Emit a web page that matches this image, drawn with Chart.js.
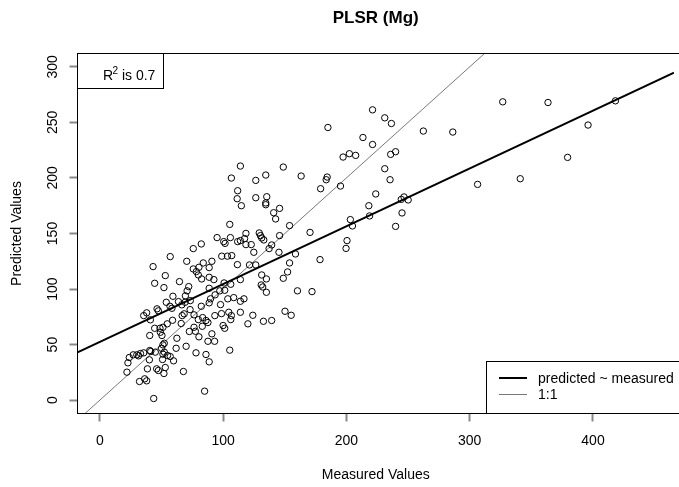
<!DOCTYPE html>
<html>
<head>
<meta charset="utf-8">
<title>PLSR (Mg)</title>
<script src="https://cdn.jsdelivr.net/npm/chart.js@4.4.1/dist/chart.umd.min.js"></script>
<style>
  body { margin: 0; background: #fff; }
  #wrap { width: 679px; height: 487px; }
</style>
</head>
<body>
<div id="wrap"><canvas id="myChart" width="679" height="487"></canvas></div>
<script>
const measured = [
  239.9, 244.5, 246.7, 250.1, 245.1, 239.9, 262.4, 286.3, 306.4, 326.8, 341.0, 363.5, 379.4, 396.0, 418.2,
  221.2, 231.1, 236.5, 185.0, 213.4, 221.2, 235.9, 197.3, 202.4, 207.5, 114.0, 148.8, 231.1, 134.6, 163.3,
  126.5, 184.4, 183.6, 235.4, 179.1, 195.2, 111.8, 223.8, 126.5, 135.4, 111.4, 114.8, 134.6, 134.6, 145.8,
  218.2, 141.0, 142.6, 218.8, 203.2, 153.9, 204.9, 170.5, 118.5, 129.3, 130.3, 131.3, 133.0, 145.8, 114.0,
  117.4, 118.5, 122.8, 200.5, 199.7, 139.4, 137.3, 124.9, 145.3, 158.7, 106.7, 105.4, 95.1, 105.9, 100.5,
  101.6, 111.8, 82.3, 75.8, 57.1, 98.9, 103.5, 107.0, 121.4, 126.5, 178.6, 153.9, 152.3, 148.8, 131.3,
  135.1, 130.9, 132.1, 135.1, 114.0, 160.3, 172.1, 116.9, 114.0, 114.0, 124.1, 150.2, 155.2, 120.1, 132.7,
  139.4, 70.5, 83.9, 90.9, 111.6, 43.2, 75.8, 78.3, 80.4, 88.7, 82.6, 79.9, 88.7, 92.5, 53.1,
  44.5, 52.0, 64.6, 72.1, 70.8, 69.4, 88.7, 100.8, 106.2, 97.3, 101.3, 59.3, 63.8, 66.5, 69.2,
  73.4, 73.2, 53.9, 56.9, 58.5, 46.4, 47.5, 38.0, 35.6, 89.8, 88.7, 93.5, 103.8, 108.6, 97.9,
  82.3, 68.4, 66.8, 76.4, 83.4, 93.3, 98.7, 104.6, 106.7, 106.2, 41.0, 59.0, 54.7, 79.9, 86.1,
  44.5, 48.8, 51.2, 66.0, 76.4, 77.5, 72.6, 83.1, 87.7, 100.0, 101.3, 49.1, 50.4, 40.5, 62.5,
  80.4, 90.9, 87.7, 93.1, 52.3, 51.2, 50.1, 70.0, 61.9, 40.5, 41.3, 45.0, 27.1, 30.0, 31.4,
  33.0, 35.6, 23.9, 22.8, 52.3, 51.2, 54.9, 57.1, 50.9, 59.8, 40.2, 78.0, 86.1, 88.7, 105.4,
  22.0, 38.6, 46.1, 47.5, 53.1, 52.0, 67.8, 32.2, 36.4, 38.0, 85.0, 43.7
];
const predicted = [
  223.6, 180.7, 182.9, 180.2, 168.5, 156.4, 242.2, 241.3, 194.2, 268.5, 199.3, 267.9, 218.5, 247.6, 269.4,
  261.3, 254.1, 249.0, 245.4, 236.4, 230.1, 221.2, 218.8, 221.8, 220.3, 210.7, 209.8, 208.3, 202.6, 201.7,
  197.8, 200.8, 198.4, 198.4, 190.3, 192.7, 188.5, 185.6, 182.2, 183.1, 181.3, 175.0, 177.5, 175.9, 172.6,
  175.0, 168.7, 163.1, 165.8, 162.5, 157.1, 156.8, 151.0, 150.1, 150.5, 148.1, 146.0, 144.2, 148.1, 143.6,
  145.4, 140.0, 140.0, 143.6, 136.6, 139.7, 136.4, 133.1, 133.1, 131.6, 199.9, 158.2, 146.3, 146.3, 142.7,
  141.1, 142.7, 140.6, 136.4, 129.2, 129.6, 129.6, 130.1, 121.7, 121.7, 126.5, 123.5, 115.4, 109.7, 112.7,
  109.1, 103.7, 101.9, 97.1, 108.5, 98.4, 97.7, 91.2, 89.0, 79.1, 76.4, 80.0, 76.4, 68.7, 71.0,
  71.7, 125.0, 123.5, 125.0, 122.0, 120.2, 118.1, 115.7, 119.6, 119.3, 109.1, 112.7, 110.6, 108.5, 112.1,
  105.2, 101.3, 106.7, 102.2, 98.4, 93.9, 100.7, 105.5, 104.3, 98.4, 98.9, 93.5, 88.7, 85.8, 88.1,
  89.6, 81.5, 88.1, 84.5, 82.7, 82.2, 80.4, 78.6, 76.1, 91.2, 87.6, 94.8, 91.2, 92.3, 86.0,
  84.5, 77.7, 76.1, 76.8, 74.3, 76.1, 77.9, 79.1, 76.1, 72.5, 72.3, 71.9, 68.7, 72.5, 71.7,
  64.7, 64.7, 65.6, 69.0, 65.6, 62.0, 61.8, 66.5, 69.9, 67.2, 64.7, 61.1, 58.2, 58.2, 55.7,
  57.0, 59.7, 53.0, 53.0, 51.2, 49.8, 46.7, 48.5, 46.7, 44.7, 43.8, 43.2, 40.8, 40.8, 39.9,
  42.0, 42.6, 38.4, 33.6, 43.2, 41.4, 40.2, 39.3, 36.6, 35.4, 36.3, 42.6, 41.1, 34.5, 45.0,
  25.2, 28.2, 28.2, 26.7, 29.4, 24.0, 25.8, 16.8, 19.2, 17.4, 8.1, 1.5
];

// Eixos e reta ajustada (predicted ~ measured)
const xTicks = [0, 100, 200, 300, 400];
const yTicks = [0, 50, 100, 150, 200, 250, 300];
const xLimits = [-18.1, 465.7];
const yLimits = [-12, 312];
const fitIntercept = 52.5;
const fitSlope = 0.52;
const r2Value = '0.7';
const legendLabels = ['predicted ~ measured', '1:1'];

const fonte = '"Liberation Sans", Arial, sans-serif';

var points = measured.map((m, i) => ({ x: m, y: predicted[i] }));
var fitLine = xLimits.map(x => ({ x: x, y: fitIntercept + fitSlope * x }));
var oneToOne = xLimits.map(x => ({ x: x, y: x }));

// Moldura, caixa do R² e legenda (desenhadas por cima dos dados)
const extrasPlugin = {
  id: 'extras',
  afterDatasetsDraw(chart) {
    const ctx = chart.ctx;
    const a = chart.chartArea;
    ctx.save();
    ctx.strokeStyle = '#000';
    ctx.lineWidth = 1;
    ctx.strokeRect(a.left, a.top, a.right + 20 - a.left, a.bottom - a.top);

    // caixa R²
    ctx.fillStyle = '#fff';
    ctx.fillRect(a.left, a.top, 86, 35);
    ctx.strokeRect(a.left, a.top, 86, 35);
    ctx.fillStyle = '#000';
    ctx.textBaseline = 'alphabetic';
    ctx.textAlign = 'left';
    ctx.font = '14px ' + fonte;
    ctx.fillText('R', 103, 79.5);
    ctx.font = '10px ' + fonte;
    ctx.fillText('2', 112.5, 74);
    ctx.font = '14px ' + fonte;
    ctx.fillText(' is ' + r2Value, 118, 79.5);

    // legenda no canto inferior direito
    const lx = 486.5, ly = 361.5;
    ctx.fillStyle = '#fff';
    ctx.fillRect(lx, ly, 220, a.bottom - ly);
    ctx.strokeRect(lx, ly, 220, a.bottom - ly);
    const rows = [378, 394.5];
    chart.data.datasets.slice(1).forEach((ds, i) => {
      ctx.strokeStyle = ds.borderColor;
      ctx.lineWidth = ds.borderWidth;
      ctx.beginPath();
      ctx.moveTo(499, rows[i]);
      ctx.lineTo(527, rows[i]);
      ctx.stroke();
      ctx.fillStyle = '#000';
      ctx.font = '14px ' + fonte;
      ctx.textBaseline = 'middle';
      ctx.fillText(ds.label, 538, rows[i] + 1);
    });
    ctx.restore();
  }
};

var ctx = document.getElementById('myChart');
var myChart = new Chart(ctx, {
  type: 'scatter',
  data: {
    datasets: [{
      label: 'dados',
      data: points,
      pointRadius: 3.2,
      pointBorderWidth: 1,
      pointBorderColor: '#000',
      pointBackgroundColor: 'rgba(0,0,0,0)'
    }, {
      label: legendLabels[0],
      data: fitLine,
      showLine: true,
      pointRadius: 0,
      borderColor: '#000',
      borderWidth: 2
    }, {
      label: legendLabels[1],
      data: oneToOne,
      showLine: true,
      pointRadius: 0,
      borderColor: '#555',
      borderWidth: 0.8
    }]
  },
  options: {
    responsive: false,
    animation: false,
    events: [],
    layout: { padding: 0 },
    plugins: {
      legend: { display: false },
      tooltip: { enabled: false },
      title: {
        display: true,
        fullSize: false,
        text: 'PLSR (Mg)',
        color: '#000',
        font: { family: fonte, size: 17, weight: 'bold' },
        padding: { top: 8, bottom: 25.1 }
      }
    },
    scales: {
      x: {
        type: 'linear',
        min: xLimits[0],
        max: xLimits[1],
        afterBuildTicks: s => { s.ticks = xTicks.map(v => ({ value: v })); },
        afterFit: s => { s.height = 73.5; },
        grid: { drawOnChartArea: false, drawTicks: true, tickLength: 8, tickWidth: 2, tickColor: '#888' },
        border: { display: false },
        ticks: { color: '#000', font: { family: fonte, size: 14 }, padding: 11, maxRotation: 0 },
        title: { display: true, text: 'Measured Values', color: '#000', font: { family: fonte, size: 14 }, padding: { top: 0, bottom: 3.6 } }
      },
      y: {
        type: 'linear',
        min: yLimits[0],
        max: yLimits[1],
        afterBuildTicks: s => { s.ticks = yTicks.map(v => ({ value: v })); },
        afterFit: s => { s.width = 77.5; },
        grid: { drawOnChartArea: false, drawTicks: true, tickLength: 8, tickWidth: 2, tickColor: '#888' },
        border: { display: false },
        ticks: { color: '#000', font: { family: fonte, size: 14 }, padding: 4.8, minRotation: 90, maxRotation: 90, crossAlign: 'center' },
        title: { display: true, text: 'Predicted Values', color: '#000', font: { family: fonte, size: 14 }, padding: { top: 8.6, bottom: 0 } }
      }
    }
  },
  plugins: [extrasPlugin]
});
</script>
</body>
</html>
